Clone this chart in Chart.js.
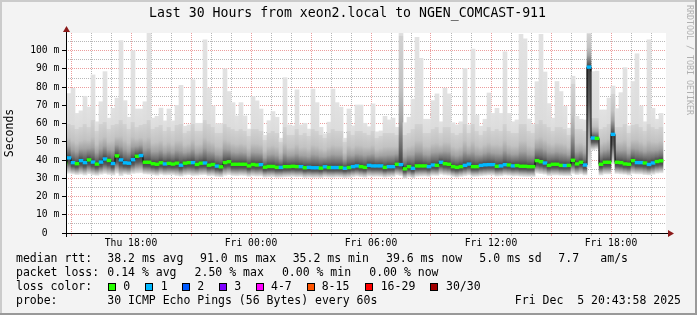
<!DOCTYPE html>
<html>
<head>
<meta charset="utf-8">
<script src="https://cdn.jsdelivr.net/npm/chart.js@4.4.1/dist/chart.umd.min.js"></script>
<style>
  html, body { margin: 0; padding: 0; background: #f3f3f3; overflow: hidden; }
</style>
</head>
<body>
<canvas id="myChart" width="697" height="315"></canvas>
<script>
// 12 minute columns, Thu 14:36 .. Fri 20:36 (hours counted from Thu 00:00)
const FIRST_COLUMN = 14.7;
const COLUMN_HOURS = 0.2;

// top of the smoke (slowest ping), ms
const rttMax = [
  76, 76.5, 79.4, 65.6, 67, 75, 69, 86.7, 61, 72,
  88.5, 63, 68.4, 74, 105.5, 72.6, 63.5, 100, 68, 68,
  72, 109.5, 63, 64, 68.5, 61.5, 68, 61.5, 70, 81,
  58.6, 59.3, 84, 60.2, 60.2, 105.9, 79.5, 69.7, 60, 60,
  90, 77.6, 71.5, 64.2, 71.5, 64.2, 57, 74.8, 72.5, 68,
  53.6, 61.6, 66.6, 63.5, 52, 85.2, 59.3, 58.8, 78.5, 59.3,
  60.2, 57, 78.9, 71.5, 58, 54.4, 60.8, 78.9, 71.5, 69,
  52, 68, 58.8, 70.2, 70.2, 60.2, 58.3, 70.8, 55.5, 56,
  64, 62, 63, 58, 110, 60.5, 63.5, 73.4, 107.3, 95.8,
  62.4, 62.4, 72.6, 76.3, 61, 79.4, 76.3, 60.5, 59.3, 61,
  90.3, 59.3, 100.9, 64.6, 58.6, 62.4, 76.8, 65.6, 68.4, 65.6,
  99.4, 65.6, 61, 62, 109, 106.5, 62.5, 59.5, 83, 109,
  88.3, 71, 63, 83.1, 77.6, 69.5, 57.5, 86, 64, 62.4,
  62, 110, 88.5, 88.8, 67.5, 67.5, 74, 80.6, 68.2, 77,
  90.7, 58.8, 83.1, 98.3, 69.7, 61, 105.9, 68.4, 62.4, 65.6
];

// top of the dense part of the smoke, ms
const rttHigh = [
  60, 60, 59, 57, 58, 60, 58, 62, 56, 60,
  61, 57, 59, 60, 62, 60, 57, 61, 58, 59,
  60, 62, 57, 58, 59, 56, 58, 56, 59, 60,
  55, 56, 60, 56, 56, 62, 60, 58, 55, 55,
  60, 58, 57, 56, 57, 56, 53, 57, 57, 56,
  51, 55, 56, 55, 50, 58, 54, 54, 57, 54,
  55, 53, 57, 56, 54, 52, 55, 57, 56, 56,
  50, 56, 54, 56, 56, 55, 54, 56, 52, 53,
  55, 55, 55, 54, 108, 54, 55, 57, 60, 60,
  55, 55, 57, 58, 55, 58, 58, 55, 54, 55,
  60, 55, 60, 56, 54, 56, 58, 56, 57, 56,
  60, 56, 55, 55, 60, 60, 56, 55, 60, 62,
  60, 58, 56, 58, 58, 57, 54, 82, 57, 57,
  56, 109, 63, 63, 57, 58, 60, 76, 58, 58,
  60, 55, 59, 60, 58, 56, 60, 58, 57, 58
];

// median rtt, ms
const rttMedian = [
  38.2, 41.2, 38.6, 38, 39.7, 38.6, 40.1, 38.9, 37.8, 38.9,
  40.6, 39.8, 38.1, 42.3, 40.1, 38.5, 38.3, 40.2, 42.1, 42.5,
  38.8, 38.8, 38, 37.7, 38.5, 37.9, 38.2, 37.8, 38.3, 37.2,
  38.3, 38.6, 38.6, 37.6, 38.3, 38.4, 37.2, 37.6, 36.7, 36.3,
  38.6, 39.1, 37.7, 37.7, 37.7, 37.7, 36.8, 37.6, 37.3, 37.5,
  36.1, 36.5, 36.5, 36, 36, 36.4, 36.4, 36.6, 36.4, 36.4,
  35.8, 36, 35.8, 35.8, 35.6, 36.3, 35.9, 35.9, 35.9, 35.9,
  35.5, 35.9, 36.4, 36.8, 36.4, 36, 37.1, 36.8, 36.8, 36.8,
  36, 36.4, 36.4, 37.7, 37.5, 35.2, 36.4, 35.5, 36.8, 36.8,
  36.8, 36.4, 37.3, 37.1, 38.8, 38, 37.7, 36.4, 36, 36.4,
  37.1, 37.8, 36.4, 36.4, 37.1, 37.4, 37.5, 37.5, 36.6, 36.8,
  37.5, 37.3, 36.8, 37, 36.6, 36.6, 36.4, 36.4, 39.7, 39.1,
  38.4, 37.1, 37.7, 37.7, 37.1, 37, 37.1, 39.9, 37.9, 38.8,
  37.3, 91.0, 52.1, 51.9, 37.7, 38.8, 38.8, 54.1, 38.8, 38.6,
  37.9, 37.7, 39.7, 38.6, 38.6, 38.4, 37.6, 38.4, 39.2, 39.6
];

// bottom of the smoke (fastest ping), ms
const rttMin = [
  32.5, 32.8, 32.4, 32, 32.3, 31.8, 32.5, 31.9, 31.6, 32.2,
  32.6, 32.1, 31.8, 32.8, 31.5, 32.3, 32, 32.6, 32.9, 33,
  32.4, 32.2, 32, 31.6, 32.2, 31.8, 31.9, 32, 31.5, 31.2,
  31.8, 32, 31.5, 31.6, 31.9, 32, 31.4, 31.5, 31, 30.8,
  31.6, 32, 31.5, 31.4, 31.6, 31.5, 31, 31.4, 31.2, 31.3,
  30.6, 30.8, 30.9, 30.5, 30.6, 30.8, 30.9, 31, 30.8, 30.9,
  30.4, 30.6, 30.4, 30.5, 30.3, 30.8, 30.6, 30.5, 30.7, 30.6,
  30.3, 30.5, 30.9, 31.2, 30.9, 30.6, 31.2, 31, 31.1, 31,
  30.6, 30.9, 31, 31.8, 31.4, 30, 30.8, 30.2, 31, 31.2,
  31.3, 31, 31.6, 31.5, 32.2, 31.8, 31.6, 31, 30.6, 31,
  31.4, 31.8, 31, 31.1, 31.4, 31.6, 31.8, 31.8, 31.2, 31.4,
  31.8, 31.6, 31.3, 31.4, 31.2, 31.1, 31, 31, 32.8, 32.5,
  32.2, 31.5, 31.8, 31.8, 31.6, 31.5, 31.5, 32.6, 32, 32.4,
  31.8, 36, 45.5, 46, 31.8, 32.4, 32.4, 38, 32.6, 32.4,
  32.2, 31.8, 32.6, 32.4, 32.4, 32, 31.8, 32.2, 32.8, 33
];

// lost pings out of 30 in each column
const lossCount = [
  0, 1, 1, 0, 1, 1, 0, 1, 0, 1,
  1, 0, 1, 0, 1, 1, 1, 1, 0, 1,
  0, 0, 0, 0, 0, 1, 0, 0, 0, 1,
  0, 0, 1, 0, 0, 1, 0, 0, 1, 0,
  0, 0, 0, 0, 0, 0, 0, 0, 0, 1,
  0, 0, 0, 0, 1, 0, 0, 0, 0, 1,
  0, 1, 1, 1, 0, 1, 0, 1, 1, 0,
  1, 0, 1, 1, 0, 0, 1, 1, 1, 1,
  0, 1, 1, 0, 1, 0, 0, 1, 0, 0,
  0, 1, 1, 0, 1, 0, 0, 0, 0, 0,
  1, 1, 0, 0, 1, 1, 1, 1, 0, 1,
  1, 0, 1, 0, 0, 0, 0, 0, 0, 0,
  1, 0, 0, 0, 0, 1, 0, 0, 0, 0,
  1, 1, 1, 0, 0, 0, 0, 1, 0, 0,
  0, 0, 0, 1, 1, 0, 1, 1, 0, 0
];

const lossLabels = ['0', '1', '2', '3', '4-7', '8-15', '16-29', '30/30'];
const lossColors = ['#26ff00', '#00b8ff', '#0059ff', '#7e00ff', '#ff00ff', '#ff5500', '#ff0000', '#a10000'];

const tickHours = [18, 24, 30, 36, 42];
const tickLabels = ['Thu 18:00', 'Fri 00:00', 'Fri 06:00', 'Fri 12:00', 'Fri 18:00'];

const gridHours = [];
for (let h = 15; h <= 44; h++) gridHours.push(h);
const gridValues = [];
for (let v = 0; v <= 105; v += 5) gridValues.push(v);

const MONO = '"DejaVu Sans Mono", monospace';
const RED_GRID = 'rgba(215,60,60,0.5)';
const GRAY_GRID = 'rgba(160,160,160,0.75)';

function lossColor(n) {
  if (n <= 3) return lossColors[n];
  if (n <= 7) return lossColors[4];
  if (n <= 15) return lossColors[5];
  if (n <= 29) return lossColors[6];
  return lossColors[7];
}

// smoke shading, darkest at the median
function smokeFill(ctx) {
  if (ctx.type !== 'data') return '#dedede';
  const i = ctx.dataIndex;
  const y = ctx.chart.scales.y;
  if (!y) return '#dedede';
  const top = y.getPixelForValue(rttMax[i]);
  const bottom = y.getPixelForValue(rttMin[i]);
  if (!isFinite(top) || !isFinite(bottom) || bottom <= top) return '#dedede';
  const grad = ctx.chart.ctx.createLinearGradient(0, top, 0, bottom);
  const med = rttMedian[i], hi = rttHigh[i], lo = rttMin[i];
  const shades = [
    [rttMax[i], '#e2e2e2'],
    [hi, '#dcdcdc'],
    [hi, '#d2d2d2'],
    [med + (hi - med) * 0.6, '#c2c2c2'],
    [med + (hi - med) * 0.35, '#a2a2a2'],
    [med + (hi - med) * 0.15, '#6e6e6e'],
    [med, '#3e3e3e'],
    [med - (med - lo) * 0.35, '#5a5a5a'],
    [med - (med - lo) * 0.7, '#a8a8a8'],
    [lo, '#e6e6e6']
  ];
  let last = 0;
  shades.forEach(([v, col]) => {
    let o = (y.getPixelForValue(v) - top) / (bottom - top);
    o = Math.min(1, Math.max(last, o));
    last = o;
    grad.addColorStop(o, col);
  });
  return grad;
}

const smokeData = rttMax.map((v, i) => ({x: FIRST_COLUMN + i * COLUMN_HOURS, y: [rttMin[i], v]}));
const medianData = rttMedian.map((v, i) => ({x: FIRST_COLUMN + i * COLUMN_HOURS, y: v}));
const medianMarks = rttMedian.map((v, i) => ({x: FIRST_COLUMN + i * COLUMN_HOURS, y: [v - 0.75, v + 0.75]}));

function text(c, s, x, y, font, align, color) {
  c.font = font;
  c.textAlign = align || 'left';
  c.textBaseline = 'middle';
  c.fillStyle = color || '#000';
  c.fillText(s, x, y);
}

const decorations = {
  id: 'decorations',
  beforeDraw(chart) {
    const c = chart.ctx, a = chart.chartArea;
    c.save();
    c.fillStyle = '#f3f3f3';
    c.fillRect(0, 0, chart.width, chart.height);
    c.fillStyle = '#ffffff';
    c.fillRect(a.left, a.top, a.right - a.left, a.bottom - a.top);
    c.restore();
  },
  afterDraw(chart) {
    const c = chart.ctx, a = chart.chartArea;
    const W = chart.width, H = chart.height;
    c.save();
    // axes with arrows
    c.strokeStyle = '#000';
    c.lineWidth = 1;
    c.beginPath();
    c.moveTo(a.left - 4, a.bottom + 0.5);
    c.lineTo(a.right + 4, a.bottom + 0.5);
    c.moveTo(a.left + 0.5, a.bottom + 4);
    c.lineTo(a.left + 0.5, a.top - 3);
    c.stroke();
    c.fillStyle = '#8b1a1a';
    c.beginPath();
    c.moveTo(a.left + 0.5, a.top - 7);
    c.lineTo(a.left - 3, a.top - 1);
    c.lineTo(a.left + 4, a.top - 1);
    c.closePath();
    c.fill();
    c.beginPath();
    c.moveTo(a.right + 8, a.bottom + 0.5);
    c.lineTo(a.right + 2, a.bottom - 3);
    c.lineTo(a.right + 2, a.bottom + 4);
    c.closePath();
    c.fill();

    // title and axis name
    text(c, 'Last 30 Hours from xeon2.local to NGEN_COMCAST-911', 347.5, 14, '13.2px ' + MONO, 'center');
    c.save();
    c.translate(10, 133);
    c.rotate(-Math.PI / 2);
    text(c, 'Seconds', 0, 0, '11.5px ' + MONO, 'center');
    c.restore();
    c.save();
    c.translate(689, 5);
    c.rotate(Math.PI / 2);
    text(c, 'RRDTOOL / TOBI OETIKER', 0, 0, '8.3px ' + MONO, 'left', '#b0b0b0');
    c.restore();

    // legend
    const f = '11.5px ' + MONO;
    const row1 = [['median rtt:', 16], ['38.2 ms avg', 107.3], ['91.0 ms max', 200], ['35.2 ms min', 292.7],
                  ['39.6 ms now', 386], ['5.0 ms sd', 479.3], ['7.7', 558.3], ['am/s', 600.3]];
    row1.forEach(([s, x]) => text(c, s, x, 259.3, f));
    const row2 = [['packet loss:', 16], ['0.14 % avg', 107.3], ['2.50 % max', 194.6], ['0.00 % min', 281.9], ['0.00 % now', 369.3]];
    row2.forEach(([s, x]) => text(c, s, x, 273.3, f));
    text(c, 'loss color:', 16, 287, f);
    const boxX = [108.5, 145.5, 182.5, 219.5, 256.5, 307.5, 365.5, 430.5];
    const labX = [123.3, 160.7, 197.3, 234.3, 271, 321.7, 380.7, 446];
    lossLabels.forEach((s, i) => {
      c.fillStyle = lossColors[i];
      c.fillRect(boxX[i], 283.5, 7, 7);
      c.strokeStyle = '#000';
      c.strokeRect(boxX[i], 283.5, 7, 7);
      text(c, s, labX[i], 287, f);
    });
    text(c, 'probe:', 16, 301, f);
    text(c, '30 ICMP Echo Pings (56 Bytes) every 60s', 107.3, 301, f);
    text(c, 'Fri Dec  5 20:43:58 2025', 681, 301, f, 'right');

    // frame
    c.fillStyle = '#cbcbcb';
    c.fillRect(0, 0, W, 2);
    c.fillRect(0, 0, 2, H);
    c.fillStyle = '#999999';
    c.fillRect(0, H - 2, W, 2);
    c.fillRect(W - 2, 0, 2, H);
    c.restore();
  }
};

var ctx = document.getElementById('myChart');
const chart = new Chart(ctx, {
  type: 'bar',
  data: {
    datasets: [{
      type: 'bar',
      label: 'loss',
      data: medianMarks,
      backgroundColor: c => c.type === 'data' ? lossColor(lossCount[c.dataIndex]) : lossColors[0],
      barThickness: 4,
      grouped: false,
      borderWidth: 0,
      order: 1
    }, {
      type: 'line',
      label: 'median',
      data: medianData,
      borderColor: '#000000',
      borderWidth: 1,
      pointRadius: 0,
      stepped: 'middle',
      fill: false,
      order: 2
    }, {
      type: 'bar',
      label: 'smoke',
      data: smokeData,
      backgroundColor: smokeFill,
      barThickness: 4,
      grouped: false,
      borderWidth: 0,
      order: 3
    }]
  },
  options: {
    responsive: false,
    animation: false,
    devicePixelRatio: 1,
    layout: {padding: {left: 0, right: 31, top: 33, bottom: 0}},
    plugins: {legend: {display: false}, tooltip: {enabled: false}, title: {display: false}},
    scales: {
      x: {
        type: 'linear',
        min: 14.75,
        max: 44.75,
        offset: false,
        afterBuildTicks: s => { s.ticks = gridHours.map(v => ({value: v})); },
        afterFit: s => { s.height = 82; },
        grid: {
          offset: false,
          lineWidth: 1,
          color: c => (c.tick && c.tick.value % 3 === 0) ? RED_GRID : GRAY_GRID,
          tickColor: c => (c.tick && c.tick.value % 3 === 0) ? RED_GRID : GRAY_GRID,
          tickLength: 3
        },
        border: {display: false, dash: [1, 1]},
        ticks: {
          autoSkip: false,
          maxRotation: 0,
          padding: 2,
          color: '#000',
          font: {family: MONO, size: 9.7},
          callback: v => {
            const i = tickHours.indexOf(v);
            return i >= 0 ? tickLabels[i] : '';
          }
        }
      },
      y: {
        min: 0,
        max: 109.7,
        afterBuildTicks: s => { s.ticks = gridValues.map(v => ({value: v})); },
        afterFit: s => { s.width = 66; },
        grid: {
          lineWidth: 1,
          color: c => (c.tick && c.tick.value % 10 === 0) ? RED_GRID : GRAY_GRID,
          tickColor: c => (c.tick && c.tick.value % 10 === 0) ? '#000' : 'rgba(0,0,0,0)',
          tickLength: 4
        },
        border: {display: false, dash: [1, 1]},
        ticks: {
          autoSkip: false,
          padding: 2.7,
          color: '#000',
          font: {family: MONO, size: 9.7},
          callback: v => v % 10 !== 0 ? '' : (v === 0 ? '0  ' : v + ' m')
        }
      }
    }
  },
  plugins: [decorations]
});
// second pass so the smoke shading sees the finished scales
chart.update();
</script>
